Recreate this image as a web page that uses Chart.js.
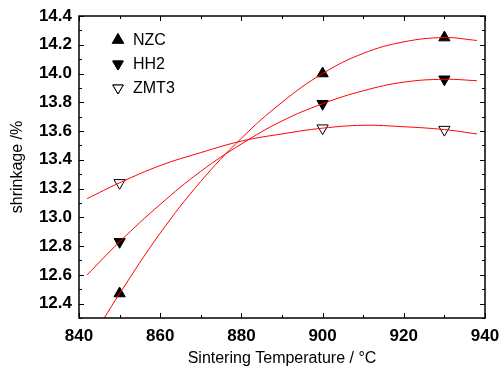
<!DOCTYPE html>
<html>
<head>
<meta charset="utf-8">
<script src="https://cdn.jsdelivr.net/npm/chart.js@4/dist/chart.umd.min.js"></script>
<style>
  html, body { margin: 0; padding: 0; background: #fff; }
  #wrap { width: 500px; height: 371px; }
</style>
</head>
<body>
<div id="wrap"><canvas id="myChart"></canvas></div>
<script>
// measured points
var temps = [850, 900, 930];
var nzc = [12.47, 14.0, 14.25];
var hh2 = [12.83, 13.79, 13.96];
var zmt3 = [13.24, 13.62, 13.61];

// fit curves
var nzcFitX = [846, 850, 860, 870, 880, 890, 900, 910, 920, 930, 938];
var nzcFitY = [12.29, 12.47, 12.89, 13.25, 13.55, 13.8, 14.0, 14.14, 14.22, 14.25, 14.23];
var hh2FitX = [842, 850, 860, 870, 880, 890, 900, 910, 920, 930, 938];
var hh2FitY = [12.6, 12.83, 13.09, 13.32, 13.51, 13.67, 13.79, 13.88, 13.94, 13.96, 13.95];
var zmtFitX = [842, 850, 860, 870, 880, 890, 900, 910, 920, 930, 938];
var zmtFitY = [13.13, 13.24, 13.36, 13.45, 13.53, 13.58, 13.62, 13.64, 13.63, 13.61, 13.58];

// tick labels
var xTicks = [840, 860, 880, 900, 920, 940];
var yTicks = [12.4, 12.6, 12.8, 13.0, 13.2, 13.4, 13.6, 13.8, 14.0, 14.2, 14.4];

function pts(xs, ys) {
  return xs.map(function (x, i) { return { x: x, y: ys[i] }; });
}

function fitLine(xs, ys) {
  return {
    data: pts(xs, ys),
    showLine: true,
    borderColor: "#ff0000",
    borderWidth: 1,
    pointRadius: 0,
    tension: 0.4,
    order: 0,
  };
}

function marker(label, ys, rot, fill) {
  return {
    label: label,
    data: pts(temps, ys),
    showLine: false,
    pointStyle: "triangle",
    rotation: rot,
    pointRadius: 6.5,
    pointBackgroundColor: fill,
    pointBorderColor: "#000",
    pointBorderWidth: 1,
    order: 1,
  };
}

// frame, inward ticks and legend
var framePlugin = {
  id: "frame",
  afterDraw: function (chart) {
    var ctx = chart.ctx;
    var a = chart.chartArea;
    var xs = chart.scales.x;
    var ys = chart.scales.y;
    ctx.save();
    ctx.strokeStyle = "#000";
    ctx.lineWidth = 1;
    ctx.beginPath();
    for (var v = 840; v <= 940; v += 10) {
      var px = Math.round(xs.getPixelForValue(v)) + 0.5;
      var len = v % 20 === 0 ? 5 : 3;
      ctx.moveTo(px, a.bottom); ctx.lineTo(px, a.bottom - len);
      ctx.moveTo(px, a.top); ctx.lineTo(px, a.top + len);
    }
    for (var i = 0; i <= 21; i++) {
      var val = 12.3 + i * 0.1;
      var py = Math.round(ys.getPixelForValue(val)) + 0.5;
      var l2 = i % 2 === 1 ? 5 : 3;
      ctx.moveTo(a.left, py); ctx.lineTo(a.left + l2, py);
      ctx.moveTo(a.right, py); ctx.lineTo(a.right - l2, py);
    }
    ctx.stroke();
    ctx.lineWidth = 1.5;
    ctx.strokeRect(a.left, a.top, a.right - a.left, a.bottom - a.top);

    // legend
    var items = chart.data.datasets.filter(function (d) { return d.label; });
    ctx.font = "16px 'Liberation Sans', Arial, sans-serif";
    ctx.textBaseline = "middle";
    ctx.fillStyle = "#000";
    var rowsY = [40, 64, 88];
    items.forEach(function (d, k) {
      Chart.helpers.drawPoint(ctx, {
        pointStyle: "triangle",
        rotation: d.rotation,
        radius: 6,
        borderWidth: 1,
      }, 118, rowsY[k]);
      ctx.fillStyle = d.pointBackgroundColor;
      ctx.strokeStyle = "#000";
      ctx.lineWidth = 1;
      ctx.fill();
      ctx.stroke();
      ctx.fillStyle = "#000";
      ctx.fillText(d.label, 133, rowsY[k] + 1);
    });
    ctx.restore();
  },
};

var tickFont = { family: "'Liberation Sans', Arial, sans-serif", size: 17, weight: "bold" };
var titleFont = { family: "'Liberation Sans', Arial, sans-serif", size: 16 };

new Chart(document.getElementById("myChart"), {
  type: "scatter",
  data: {
    datasets: [
      fitLine(nzcFitX, nzcFitY),
      fitLine(hh2FitX, hh2FitY),
      fitLine(zmtFitX, zmtFitY),
      marker("NZC", nzc, 0, "#000"),
      marker("HH2", hh2, 180, "#000"),
      marker("ZMT3", zmt3, 180, "#fff"),
    ],
  },
  options: {
    responsive: true,
    maintainAspectRatio: false,
    animation: false,
    layout: { padding: { left: 0, right: 0, top: 16, bottom: 0 } },
    plugins: {
      legend: { display: false },
      tooltip: { enabled: false },
    },
    scales: {
      x: {
        type: "linear",
        min: 840,
        max: 940,
        grid: { display: false, drawTicks: false },
        border: { display: false },
        afterBuildTicks: function (s) {
          s.ticks = xTicks.map(function (v) { return { value: v }; });
        },
        afterFit: function (s) {
          s.height = 53;
          s.paddingLeft = 0;
          s.paddingRight = 15;
        },
        ticks: { color: "#000", font: tickFont, padding: 8, maxRotation: 0 },
        title: {
          display: true,
          text: "Sintering Temperature / °C",
          color: "#000",
          font: titleFont,
          padding: { top: 0, bottom: 3 },
        },
      },
      y: {
        type: "linear",
        min: 12.3,
        max: 14.4,
        grid: { display: false, drawTicks: false },
        border: { display: false },
        afterBuildTicks: function (s) {
          s.ticks = yTicks.map(function (v) { return { value: v }; });
        },
        afterFit: function (s) {
          s.width = 79;
          s.paddingTop = 0;
          s.paddingBottom = 0;
        },
        ticks: {
          color: "#000",
          font: tickFont,
          padding: 7,
          callback: function (v) { return Number(v).toFixed(1); },
        },
        title: {
          display: true,
          text: "shrinkage /%",
          color: "#000",
          font: titleFont,
          padding: { top: 8, bottom: 0 },
        },
      },
    },
  },
  plugins: [framePlugin],
});
</script>
</body>
</html>
